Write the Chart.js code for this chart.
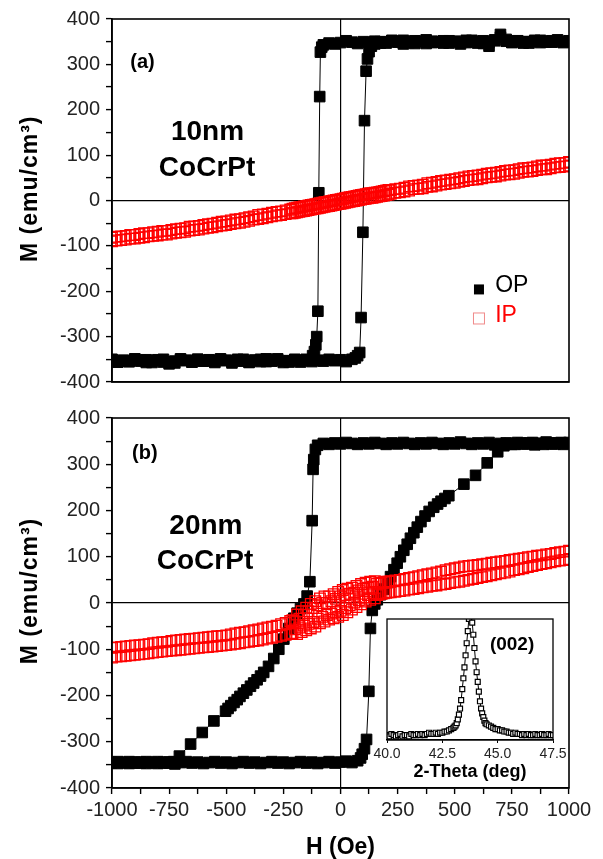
<!DOCTYPE html>
<html>
<head>
<meta charset="utf-8">
<script src="https://cdn.jsdelivr.net/npm/chart.js@4.4.0/dist/chart.umd.min.js"></script>
<style>
  html, body { margin: 0; padding: 0; background: #fff; }
  #wrap { position: relative; width: 603px; height: 859px; overflow: hidden; }
  canvas { position: absolute; }
  #panelA { left: 0; top: 0; }
  #panelB { left: 0; top: 400px; }
  #inset { left: 370px; top: 610px; }
</style>
</head>
<body>
<div id="wrap">
  <canvas id="panelA" width="603" height="400"></canvas>
  <canvas id="panelB" width="603" height="459"></canvas>
  <canvas id="inset" width="200" height="175"></canvas>
</div>
<script>
// ---- (a) 10nm CoCrPt, out of plane: field sweep down then up
const opA_downH = [1000,975,950,925,900,875,850,825,800,775,750,725,700,675,650,625,600,575,550,525,500,475,450,425,400,375,350,325,300,275,250,225,200,175,150,125,100,75,50,25,0,-25,-50,-75,
  -82,-88,-91,-95,-99,-104,-108,-114,-122,
  -150,-175,-200,-225,-250,-275,-300,-325,-350,-375,-400,-425,-450,-475,-500,-525,-550,-575,-600,-625,-650,-675,-700,-725,-750,-775,-800,-825,-850,-875,-900,-925,-950,-975,-1000];
const opA_downM = [352,350,354,349,351,348,353,350,347,352,349,355,360,352,340,346,350,353,348,345,350,352,347,349,351,346,350,352,348,345,350,353,349,347,351,348,350,346,349,352,348,345,347,343,
  338,327,229,17,-244,-300,-318,-333,-342,
  -352,-356,-350,-353,-357,-351,-354,-349,-355,-352,-356,-350,-353,-358,-352,-349,-355,-351,-354,-350,-356,-352,-349,-354,-360,-356,-351,-353,-357,-352,-350,-355,-353,-356,-351];
const opA_upH = [-1000,-975,-950,-925,-900,-875,-850,-825,-800,-775,-750,-725,-700,-675,-650,-625,-600,-575,-550,-525,-500,-475,-450,-425,-400,-375,-350,-325,-300,-275,-250,-225,-200,-175,-150,-125,-100,-75,-50,-25,0,25,50,
  65,75,84,90,98,105,112,118,125,135,
  150,175,200,225,250,275,300,325,350,375,400,425,450,475,500,525,550,575,600,625,650,675,700,725,750,775,800,825,850,875,900,925,950,975,1000];
const opA_upM = [-350,-356,-352,-355,-349,-354,-351,-357,-353,-350,-355,-358,-351,-353,-356,-350,-354,-352,-357,-351,-353,-355,-350,-354,-357,-352,-350,-355,-353,-349,-354,-356,-351,-353,-350,-355,-352,-354,-350,-353,-351,-355,-350,
  -347,-342,-335,-258,-70,176,285,312,328,340,
  345,350,347,352,349,353,350,346,351,354,348,350,352,347,351,349,353,350,347,352,349,354,366,351,348,352,350,347,351,353,349,352,350,348,351];

// in-plane loops share one field list (finer steps near zero)
const ipField = [-1000,-980,-960,-940,-920,-900,-880,-860,-840,-820,-800,-780,-760,-740,-720,-700,-680,-660,-640,-620,-600,-580,-560,-540,-520,-500,-480,-460,-440,-420,-400,-380,-360,-340,-320,-300,-280,-260,-240,-220,
  -210,-200,-190,-180,-170,-160,-150,-140,-130,-120,-110,-100,-90,-80,-70,-60,-50,-40,-30,-20,-10,0,10,20,30,40,50,60,70,80,90,100,110,120,130,140,150,160,170,180,190,200,210,
  220,240,260,280,300,320,340,360,380,400,420,440,460,480,500,520,540,560,580,600,620,640,660,680,700,720,740,760,780,800,820,840,860,880,900,920,940,960,980,1000];
const ipA_downM = [-82,-80,-79,-78,-76,-76,-74,-72,-72,-70,-69,-67,-67,-65,-63,-62,-61,-58,-57,-56,-54,-52,-51,-49,-47,-46,-44,-42,-41,-39,-37,-35,-32,-31,-29,-27,-25,-24,-22,-20,
  -18,-17,-16,-15,-14,-13,-12,-11,-10,-9,-8,-7,-6,-5,-4,-3,-2,-1,0,1,2,3,4,5,6,7,8,9,10,11,12,13,14,15,16,16,17,18,19,20,21,22,23,
  23,25,26,28,31,32,33,35,38,39,41,43,44,46,47,49,51,53,54,55,57,59,60,61,63,65,66,67,69,71,72,73,75,77,77,79,81,82,83,85];
const ipA_upM = [-90,-88,-87,-86,-84,-84,-82,-81,-79,-78,-77,-75,-75,-73,-71,-70,-69,-66,-65,-64,-62,-60,-59,-57,-55,-54,-52,-50,-49,-47,-45,-42,-41,-39,-37,-35,-33,-32,-30,-28,
  -28,-27,-26,-25,-24,-23,-22,-21,-20,-19,-18,-17,-16,-15,-14,-13,-12,-11,-10,-9,-8,-7,-6,-5,-4,-3,-2,-1,0,1,2,3,4,5,6,6,7,8,9,10,11,12,13,
  15,17,18,20,22,25,26,27,30,31,33,35,36,38,39,41,43,45,46,47,49,51,52,53,55,57,58,59,61,63,64,65,67,69,69,71,73,74,75,77];

// ---- (b) 20nm CoCrPt
const opB_downH = [1000,975,950,925,900,875,850,825,800,775,750,725,700,675,650,625,600,575,550,525,500,475,450,425,400,375,350,325,300,275,250,225,200,175,150,125,100,75,50,25,0,-25,-50,-75,-100,
  -110,-117,-120,-124,-134,-146,-160,-175,-190,-204,-226,-248,-270,-292,-315,-336,-350,-365,-380,-394,-410,-425,-440,-452,-466,-480,-492,-503,-554,-605,-656,-705,-730,
  -750,-775,-800,-825,-850,-875,-900,-925,-950,-975,-1000];
const opB_downM = [347,343,346,344,348,345,342,346,344,347,343,346,345,342,347,344,346,343,345,348,344,346,343,345,347,344,346,343,345,347,344,346,343,345,347,344,346,343,345,347,344,346,343,345,341,
  332,310,289,178,46,15,-2,-12,-22,-33,-55,-78,-100,-120,-137,-150,-158,-166,-173,-180,-188,-195,-202,-209,-215,-222,-228,-234,-255,-280,-305,-331,-343,
  -346,-344,-347,-345,-343,-346,-344,-347,-345,-343,-346];
const opB_upH = [-1000,-975,-950,-925,-900,-875,-850,-825,-800,-775,-750,-725,-700,-675,-650,-625,-600,-575,-550,-525,-500,-475,-450,-425,-400,-375,-350,-325,-300,-275,-250,-225,-200,-175,-150,-125,-100,-75,-50,-25,0,25,50,75,
  88,95,105,114,124,131,139,150,161,175,190,205,219,234,248,262,277,292,306,321,336,352,370,388,408,425,440,457,474,540,591,642,688,715,
  740,765,790,815,840,865,890,915,940,965,990];
const opB_upM = [-344,-347,-345,-343,-346,-344,-347,-345,-343,-346,-344,-348,-345,-343,-346,-344,-347,-345,-343,-346,-344,-347,-345,-343,-346,-344,-347,-345,-343,-346,-344,-347,-345,-343,-346,-344,-347,-345,-343,-346,-344,-342,-345,-341,
  -335,-327,-315,-295,-191,-55,-16,-2,7,18,30,44,57,72,86,100,114,127,140,152,164,176,188,198,207,214,220,226,232,257,276,303,327,340,
  345,343,346,344,347,345,343,346,344,347,345];
const ipB_downM = [-97,-96,-95,-94,-93,-92,-91,-90,-89,-87,-86,-85,-84,-82,-81,-80,-79,-78,-77,-76,-75,-74,-73,-72,-71,-70,-68,-66,-64,-63,-61,-59,-57,-55,-53,-51,-49,-46,-43,-39,
  -37,-40,-25,-34,-18,-26,-10,-18,-2,-11,4,-5,10,0,14,0,14,4,19,9,24,14,28,17,31,20,33,22,37,27,41,31,44,33,46,35,47,42,43,44,45,46,46,
  47,49,50,52,54,56,58,60,62,64,66,68,71,73,75,77,79,80,81,82,84,85,87,88,90,91,93,94,96,97,99,100,102,103,105,106,108,110,111,113];
const ipB_upM = [-118,-116,-115,-114,-113,-112,-111,-110,-109,-107,-106,-105,-104,-103,-102,-101,-100,-99,-98,-97,-96,-95,-94,-93,-92,-91,-90,-88,-87,-85,-84,-82,-81,-79,-77,-75,-73,-71,-69,-67,
  -65,-57,-67,-53,-63,-49,-59,-45,-55,-41,-51,-34,-44,-30,-40,-26,-36,-23,-33,-20,-30,-17,-26,-11,-20,-5,-14,1,-9,6,-3,12,3,17,7,21,10,17,19,20,21,22,23,
  23,24,26,27,29,30,32,34,35,37,38,40,41,43,45,46,48,50,52,54,56,58,60,62,64,66,68,71,73,75,78,80,82,84,86,88,90,92,93,95];

// ---- inset: XRD (002) peak
const twoTheta = [40.0,40.1,40.2,40.3,40.4,40.5,40.6,40.7,40.8,40.9,41.0,41.1,41.2,41.3,41.4,41.5,41.6,41.7,41.8,41.9,42.0,42.1,42.2,42.3,42.4,42.5,42.6,42.7,42.8,42.9,43.0,
  43.05,43.1,43.15,43.2,43.25,43.3,43.35,43.4,43.45,43.5,43.55,43.6,43.65,43.7,43.75,43.8,43.85,43.9,43.95,44.0,44.05,44.1,44.15,44.2,44.25,44.3,44.35,44.4,44.45,44.5,
  44.6,44.7,44.8,44.9,45.0,45.1,45.2,45.3,45.4,45.5,45.6,45.7,45.8,45.9,46.0,46.1,46.2,46.3,46.4,46.5,46.6,46.7,46.8,46.9,47.0,47.1,47.2,47.3,47.4,47.5];
const xrdCounts = [4,3,5,4,3,4,5,3,4,4,3,5,4,4,5,4,5,4,5,6,5,5,6,5,6,6,7,7,8,9,10,
  11,12,14,17,21,26,33,42,51,60,70,80,90,100,106,104,97,87,76,65,56,48,40,32,26,22,19,16,14,13,
  12,11,10,9,9,8,8,7,7,6,6,5,6,5,5,4,5,4,5,4,4,5,4,4,5,4,4,5,4,4];

const FONT = "Arial, 'Liberation Sans', Helvetica, sans-serif";
const toPoints = (xs, ys) => xs.map((x, i) => ({ x, y: ys[i] }));
const zeroLine = c => (c.tick && c.tick.value === 0 ? '#000' : 'rgba(0,0,0,0)');

// frame, in-plot labels, hand legend and the rotated y title (config kept out of Chart's option resolver)
function annotPlugin(cfg) {
  return {
    id: 'annot',
    afterDraw(chart) {
      const { ctx, chartArea: a, scales: { x, y } } = chart;
      ctx.save();
      ctx.strokeStyle = '#000';
      ctx.lineWidth = cfg.frame || 1.6;
      ctx.strokeRect(a.left, a.top, a.right - a.left, a.bottom - a.top);
      (cfg.labels || []).forEach(l => {
        ctx.font = l.font;
        ctx.fillStyle = l.color || '#000';
        ctx.textAlign = l.align || 'center';
        ctx.textBaseline = 'middle';
        ctx.fillText(l.text, x.getPixelForValue(l.h), y.getPixelForValue(l.m));
      });
      (cfg.swatches || []).forEach(s => {
        const px = x.getPixelForValue(s.h), py = y.getPixelForValue(s.m), half = s.size / 2;
        if (s.solid) {
          ctx.fillStyle = s.color;
          ctx.fillRect(px - half, py - half, s.size, s.size);
        } else {
          ctx.strokeStyle = s.color;
          ctx.lineWidth = 1;
          ctx.strokeRect(px - half, py - half, s.size, s.size);
        }
      });
      if (cfg.yTitle) {
        ctx.translate(cfg.yTitle.px, y.getPixelForValue(cfg.yTitle.m));
        ctx.rotate(-Math.PI / 2);
        ctx.font = 'bold 23px ' + FONT;
        if ('letterSpacing' in ctx) ctx.letterSpacing = '1px';
        ctx.fillStyle = '#000';
        ctx.textAlign = 'center';
        ctx.textBaseline = 'middle';
        ctx.fillText(cfg.yTitle.text, 0, 0);
      }
      ctx.restore();
    }
  };
}

function opSet(h, m) {
  return {
    data: toPoints(h, m), showLine: true, borderColor: '#000', borderWidth: 1,
    pointStyle: 'rect', pointRadius: 7.5, pointBackgroundColor: '#000',
    pointBorderColor: '#000', pointBorderWidth: 1
  };
}
function ipSet(m) {
  return {
    data: toPoints(ipField, m), showLine: false,
    pointStyle: 'rect', pointRadius: 7.5, pointBackgroundColor: 'rgba(255,255,255,0)',
    pointBorderColor: '#ff0000', pointBorderWidth: 1.3
  };
}

function mainOptions(cfg) {
  return {
    responsive: false,
    animation: false,
    events: [],
    layout: { padding: { left: 0, right: 34, top: cfg.top, bottom: 0 } },
    plugins: { legend: { display: false }, tooltip: { enabled: false } },
    scales: {
      x: {
        type: 'linear', min: -1000, max: 1000,
        afterFit: s => { s.height = cfg.xHeight; s.paddingLeft = 0; s.paddingRight = 0; },
        ticks: {
          display: cfg.xLabels, stepSize: 125, autoSkip: false, maxRotation: 0, padding: 4,
          color: '#222', font: { family: FONT, size: 20 },
          callback: v => (v % 250 === 0 ? String(v) : '')
        },
        grid: { color: zeroLine, lineWidth: 1.2, drawTicks: cfg.xLabels, tickLength: 6, tickColor: '#000', tickWidth: 1.4 },
        border: { color: '#000', width: 1.6 },
        title: {
          display: cfg.xLabels, text: 'H (Oe)', color: '#000', padding: 0,
          font: { family: FONT, size: 23, weight: 'bold', lineHeight: 1 }
        }
      },
      y: {
        type: 'linear', min: -400, max: 400,
        afterFit: s => { s.width = 112; },
        ticks: {
          stepSize: 50, autoSkip: false, padding: 6, color: '#222',
          font: { family: FONT, size: 20 },
          callback: v => (v % 100 === 0 ? String(v) : '')
        },
        grid: { color: zeroLine, lineWidth: 1.2, tickLength: 6, tickColor: '#000', tickWidth: 1.4 },
        border: { color: '#000', width: 1.6 }
      }
    }
  };
}

new Chart(document.getElementById('panelA'), {
  type: 'scatter',
  data: { datasets: [ipSet(ipA_downM), ipSet(ipA_upM), opSet(opA_downH, opA_downM), opSet(opA_upH, opA_upM)] },
  options: mainOptions({ top: 19, xHeight: 9, xLabels: false }),
  plugins: [annotPlugin({
    yTitle: { text: 'M (emu/cm³)', px: 31, m: 26 },
    labels: [
      { text: '(a)', h: -920, m: 305, align: 'left', font: 'bold 20px ' + FONT },
      { text: '10nm', h: -582, m: 150, font: 'bold 28px ' + FONT },
      { text: 'CoCrPt', h: -584, m: 71, font: 'bold 28px ' + FONT },
      { text: 'OP', h: 677, m: -187, align: 'left', font: '23px ' + FONT },
      { text: 'IP', h: 677, m: -254, align: 'left', color: '#ff0000', font: '23px ' + FONT }
    ],
    swatches: [
      { h: 606, m: -196, size: 10, solid: true, color: '#000' },
      { h: 606, m: -260, size: 11, solid: false, color: '#f08a8a' }
    ]
  })]
});

new Chart(document.getElementById('panelB'), {
  type: 'scatter',
  data: { datasets: [ipSet(ipB_downM), ipSet(ipB_upM), opSet(opB_downH, opB_downM), opSet(opB_upH, opB_upM)] },
  options: mainOptions({ top: 16.5, xHeight: 71, xLabels: true }),
  plugins: [annotPlugin({
    yTitle: { text: 'M (emu/cm³)', px: 31, m: 26 },
    labels: [
      { text: '(b)', h: -912, m: 324, align: 'left', font: 'bold 20px ' + FONT },
      { text: '20nm', h: -589, m: 166, font: 'bold 28px ' + FONT },
      { text: 'CoCrPt', h: -593, m: 91, font: 'bold 28px ' + FONT }
    ]
  })]
});

new Chart(document.getElementById('inset'), {
  type: 'scatter',
  data: {
    datasets: [{
      data: toPoints(twoTheta, xrdCounts), showLine: true, borderColor: '#000', borderWidth: 1,
      pointStyle: 'rect', pointRadius: 3.5, pointBackgroundColor: '#fff',
      pointBorderColor: '#000', pointBorderWidth: 1.2
    }]
  },
  options: {
    responsive: false,
    animation: false,
    events: [],
    layout: { padding: { left: 17, right: 17, top: 9, bottom: 0 } },
    plugins: { legend: { display: false }, tooltip: { enabled: false } },
    scales: {
      x: {
        type: 'linear', min: 40, max: 47.5,
        afterFit: s => { s.height = 45; s.paddingLeft = 0; s.paddingRight = 0; },
        ticks: { stepSize: 2.5, autoSkip: false, maxRotation: 0, padding: 3, color: '#222',
          font: { family: FONT, size: 14 }, callback: v => v.toFixed(1) },
        grid: { drawOnChartArea: false, tickLength: 3, tickColor: '#000' },
        border: { color: '#000', width: 1.3 },
        title: { display: true, text: '2-Theta (deg)', color: '#000', padding: { top: 0, bottom: 2 },
          font: { family: FONT, size: 18, weight: 'bold', lineHeight: 1.2 } }
      },
      y: { display: false, min: 0, max: 100 }
    }
  },
  plugins: [annotPlugin({ frame: 1.3, labels: [{ text: '(002)', h: 45.65, m: 79, font: 'bold 19px ' + FONT }] })]
});
</script>
</body>
</html>
